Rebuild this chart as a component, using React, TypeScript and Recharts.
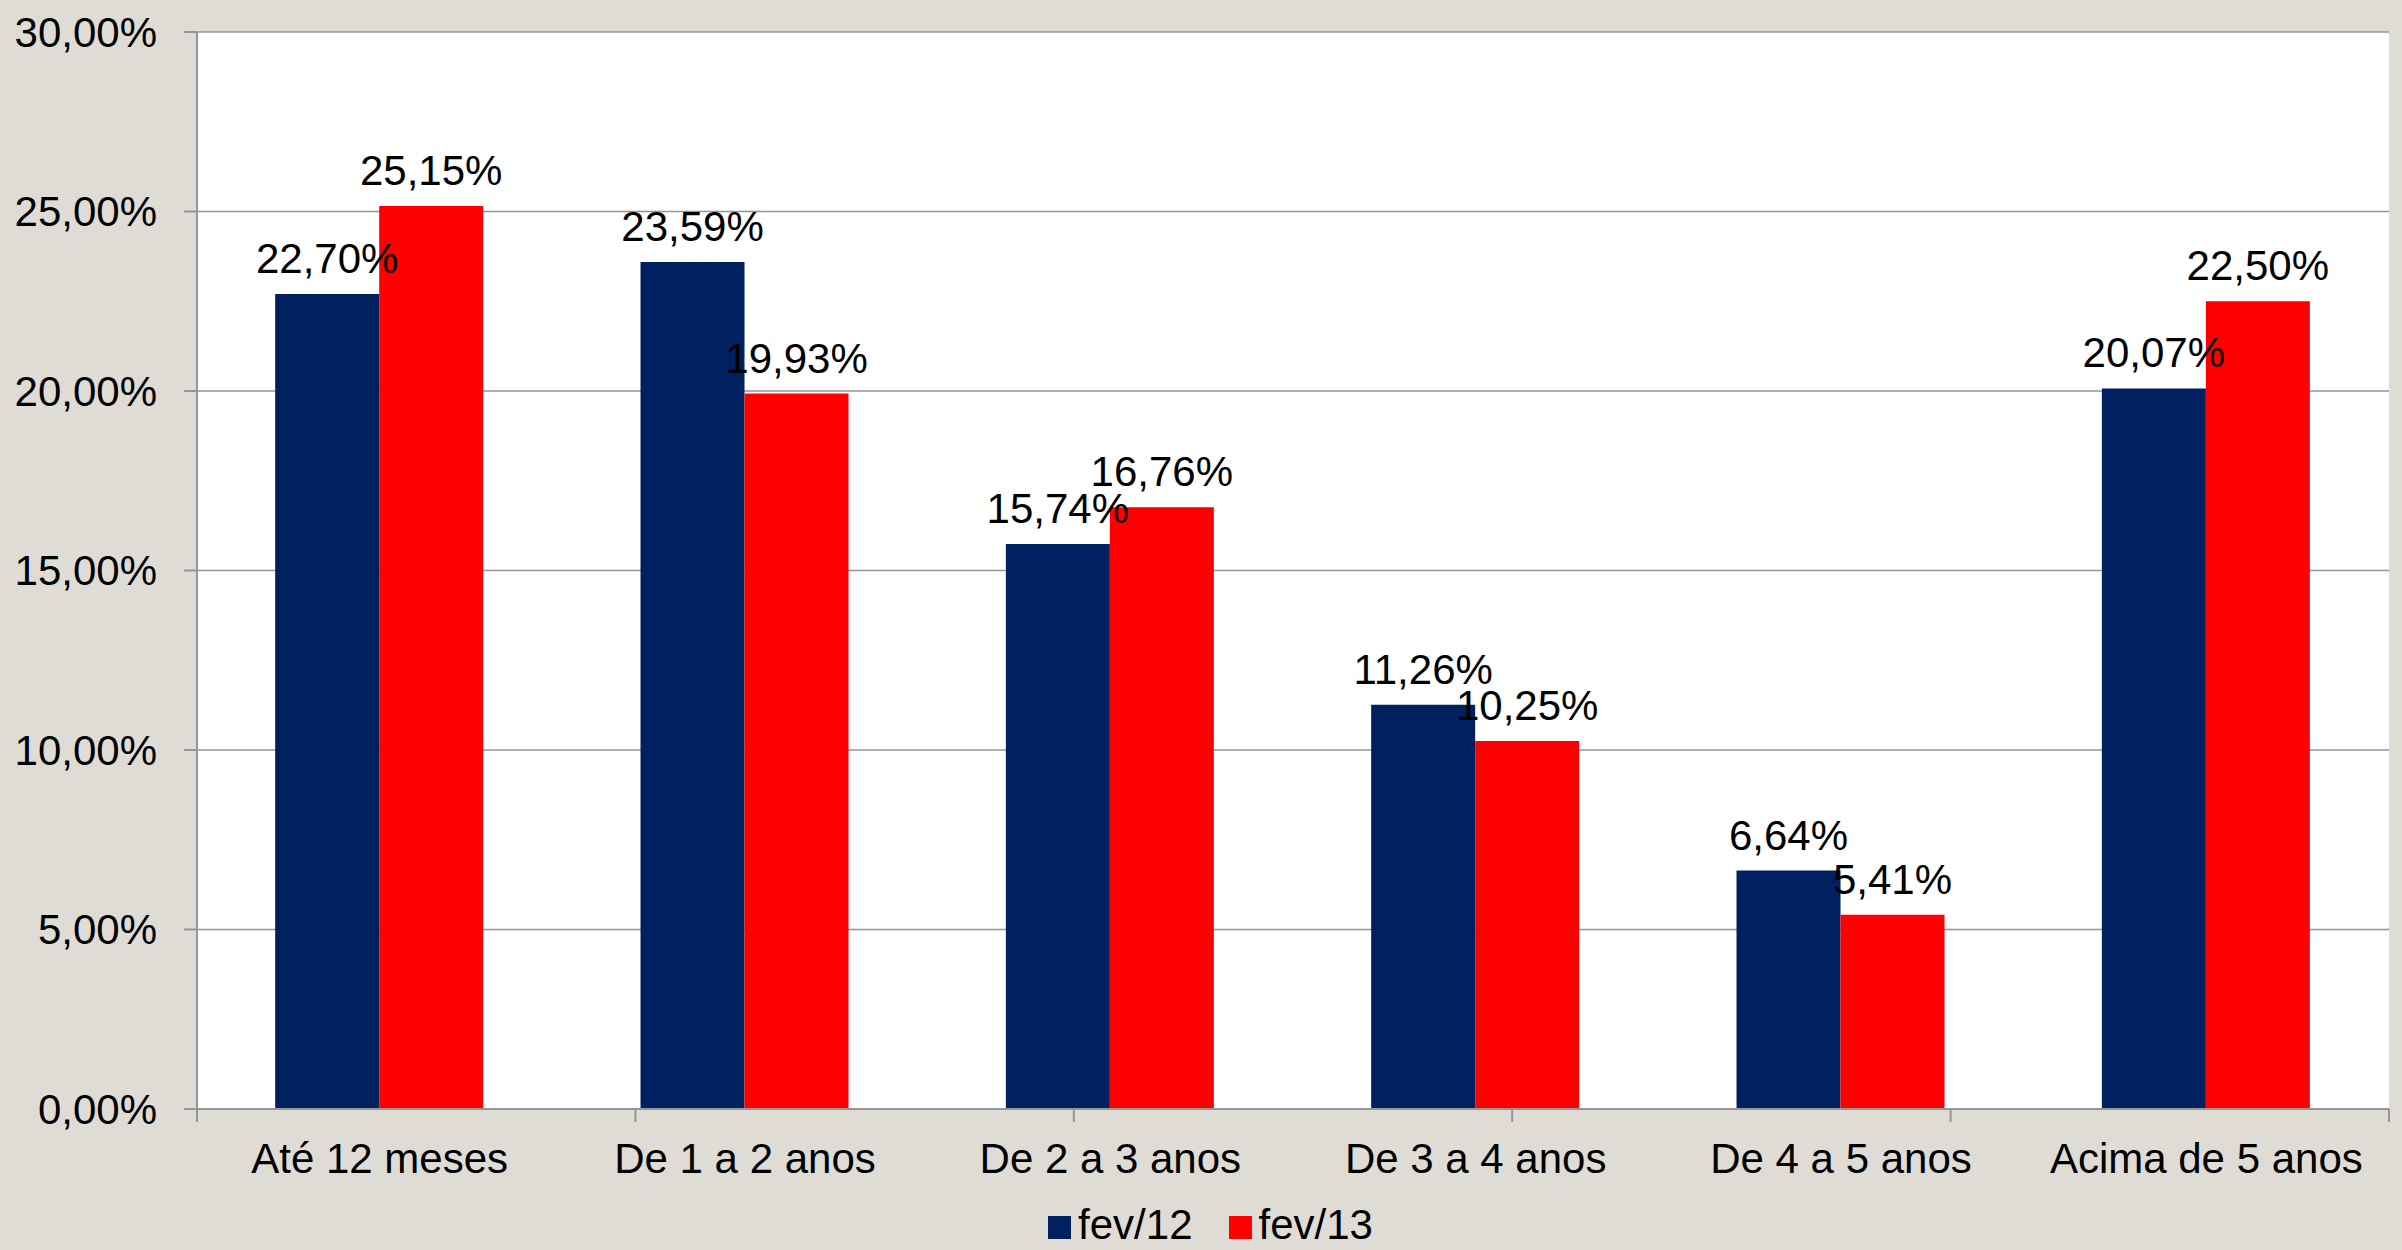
import { Bar, BarChart, CartesianGrid, LabelList, Legend, XAxis, YAxis } from "recharts";

const categories = [
  "Até 12 meses",
  "De 1 a 2 anos",
  "De 2 a 3 anos",
  "De 3 a 4 anos",
  "De 4 a 5 anos",
  "Acima de 5 anos"
];
const fev12 = [22.7, 23.59, 15.74, 11.26, 6.64, 20.07];
const fev13 = [25.15, 19.93, 16.76, 10.25, 5.41, 22.5];
const yTicks = [0, 5, 10, 15, 20, 25, 30];
const edgeTicks = [0, 1, 2, 3, 4, 5, 6];

const data = categories.map((name, i) => ({ name, fev12: fev12[i], fev13: fev13[i] }));

const pct = (v: number) => v.toFixed(2).replace(".", ",") + "%";
const font = "'Liberation Sans', Arial, sans-serif";
const grey = "#959595";

export default function App() {
  return (
    <div style={{ width: 2402, height: 1250, background: "#dfdcd5", fontFamily: font }}>
      <style>{`body{margin:0}
.recharts-legend-item{margin:0 18px !important}
.recharts-legend-item .recharts-surface{margin-right:7px !important}`}</style>
      <BarChart
        width={2402}
        height={1250}
        data={data}
        margin={{ top: 32, right: 13, left: 0, bottom: 0 }}
        barCategoryGap="21.4%"
        barGap={0}
      >
        <CartesianGrid vertical={false} stroke={grey} strokeWidth={1.6} fill="#ffffff" />
        <XAxis
          xAxisId="a"
          type="number"
          domain={[0, 6]}
          ticks={edgeTicks}
          interval={0}
          tick={{ fontSize: 1 }}
          tickFormatter={() => " "}
          tickSize={13}
          tickMargin={0}
          height={13}
          stroke={grey}
          strokeWidth={2}
          allowDataOverflow
        />
        <XAxis
          xAxisId="b"
          dataKey="name"
          tickLine={false}
          axisLine={false}
          tickSize={0}
          tickMargin={21}
          height={78}
          tick={{ fill: "#000", fontSize: 42, fontFamily: font }}
        />
        <YAxis
          width={197}
          domain={[0, 30]}
          ticks={yTicks}
          tickFormatter={pct}
          tickSize={13}
          tickMargin={27}
          stroke={grey}
          strokeWidth={2}
          tick={{ fill: "#000", fontSize: 42, fontFamily: font }}
        />
        <Legend
          verticalAlign="bottom"
          align="center"
          iconType="square"
          iconSize={23}
          wrapperStyle={{ fontSize: 42, fontFamily: font, height: 50, lineHeight: "50px", paddingLeft: 16 }}
          formatter={(v) => <span style={{ color: "#000" }}>{v}</span>}
        />
        <Bar xAxisId="b" dataKey="fev12" name="fev/12" fill="#002060" isAnimationActive={false}>
          <LabelList dataKey="fev12" position="top" offset={21} formatter={pct} fill="#000" fontSize={42} fontFamily={font} />
        </Bar>
        <Bar xAxisId="b" dataKey="fev13" name="fev/13" fill="#ff0000" isAnimationActive={false}>
          <LabelList dataKey="fev13" position="top" offset={21} formatter={pct} fill="#000" fontSize={42} fontFamily={font} />
        </Bar>
      </BarChart>
    </div>
  );
}
